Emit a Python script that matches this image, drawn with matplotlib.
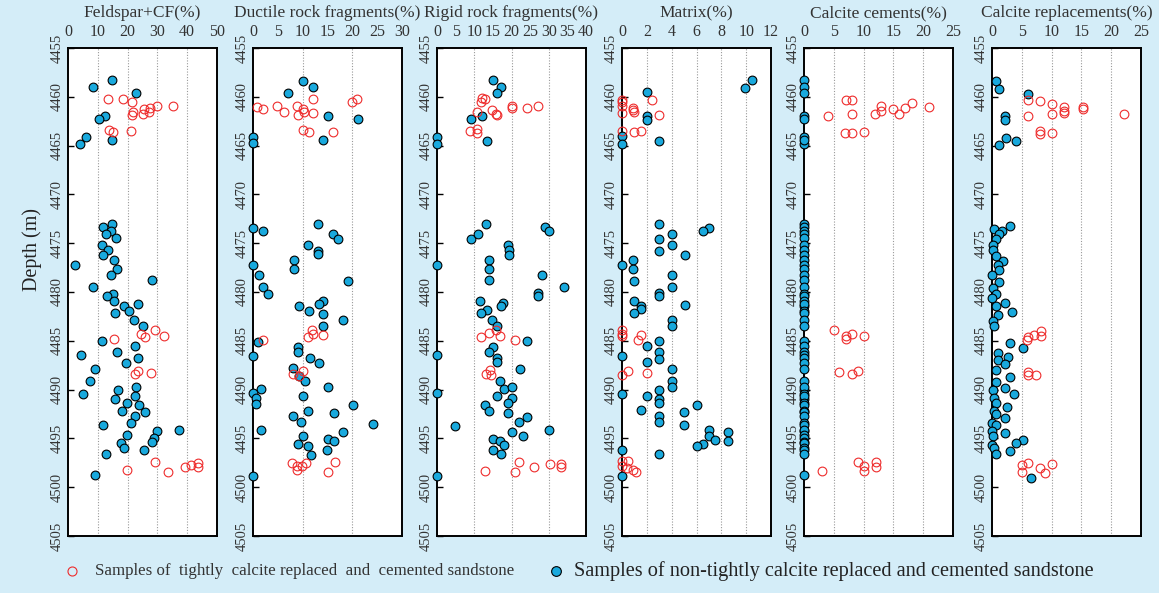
import matplotlib
matplotlib.use('Agg')
import matplotlib.pyplot as plt
import numpy as np

plt.rcParams['font.family'] = ['Liberation Serif', 'DejaVu Serif']

# ---- data (value %, depth m) ----
# Feldspar+CF
fel_blue_x = [14.6, 8.4, 22.8, 12.4, 10.4, 6.1, 3.9, 14.7, 14.6, 11.8, 14.4, 12.6, 16.2, 11.3, 13.4, 11.7,
              15.4, 2.2, 16.3, 14.3, 28.2, 8.4, 15.0, 13.1, 15.4, 18.8, 23.6, 20.4, 15.9, 22.1, 25.2, 11.3,
              22.6, 16.3, 4.4, 23.4, 19.3, 9.1, 7.3, 16.8, 22.8, 4.9, 15.7, 22.6, 19.9, 23.7, 18.0, 25.8,
              22.4, 21.3, 11.9, 29.7, 37.2, 19.9, 28.8, 28.2, 17.9, 18.7, 25.4, 12.6, 9.1]
fel_blue_d = [4458.3, 4459.0, 4459.6, 4462.0, 4462.3, 4464.1, 4464.8, 4464.4, 4473.0, 4473.3, 4473.8, 4474.1,
              4474.5, 4475.2, 4475.7, 4476.2, 4476.7, 4477.2, 4477.6, 4478.3, 4478.8, 4479.5, 4480.2, 4480.45,
              4480.9, 4481.4, 4481.2, 4481.9, 4482.2, 4482.9, 4483.5, 4485.0, 4485.5, 4486.1, 4486.5, 4486.8,
              4487.3, 4487.9, 4489.1, 4490.0, 4489.7, 4490.4, 4491.0, 4490.7, 4491.4, 4491.6, 4492.2, 4492.3,
              4492.7, 4493.4, 4493.6, 4494.2, 4494.1, 4494.7, 4495.0, 4495.4, 4495.5, 4496.0, 4496.2, 4496.6,
              4498.8]
fel_red_x = [13.3, 18.6, 21.4, 29.8, 35.3, 25.6, 27.6, 21.7, 21.4, 25.2, 27.2, 13.8, 15.0, 21.3, 29.2, 32.2,
             24.6, 25.8, 15.3, 23.6, 22.6, 28.0, 29.1, 33.7, 19.7, 39.1, 41.2, 43.6, 43.6]
fel_red_d = [4460.2, 4460.2, 4460.5, 4460.9, 4460.9, 4461.2, 4461.1, 4461.6, 4461.9, 4461.8, 4461.6, 4463.4,
             4463.6, 4463.5, 4483.9, 4484.5, 4484.3, 4484.6, 4484.8, 4488.1, 4488.4, 4488.3, 4497.4, 4498.4,
             4498.2, 4497.9, 4497.7, 4497.5, 4497.9]

# Ductile rock fragments
duc_blue_x = [10.0, 12.1, 7.1, 15.1, 21.1, 0.1, 0.1, 14.0, 13.1, 2.1, 0.1, 16.1, 17.1, 11.1, 13.1, 13.1,
              8.3, 8.2, 0.1, 1.3, 19.1, 2.1, 3.1, 14.1, 13.2, 9.2, 11.2, 14.1, 18.1, 14.1, 1.1, 9.1, 9.1,
              0.1, 11.5, 13.2, 8.0, 9.3, 10.5, 1.7, 15.1, 0.1, 0.7, 10.0, 0.7, 20.1, 11.1, 16.3, 8.0, 9.6,
              24.1, 1.7, 18.1, 10.0, 15.0, 16.3, 9.1, 11.1, 14.9, 11.6, 0.1]
duc_blue_d = [4458.4, 4459.0, 4459.6, 4462.0, 4462.3, 4464.1, 4464.7, 4464.4, 4473.0, 4473.7, 4473.4, 4474.1,
              4474.6, 4475.2, 4475.8, 4476.1, 4476.7, 4477.6, 4477.2, 4478.3, 4478.9, 4479.5, 4480.2, 4480.9,
              4481.2, 4481.4, 4481.9, 4482.3, 4482.9, 4483.5, 4485.1, 4485.6, 4486.1, 4486.6, 4486.8, 4487.3,
              4487.8, 4488.6, 4489.1, 4489.9, 4489.7, 4490.35, 4490.9, 4490.7, 4491.5, 4491.6, 4492.2, 4492.4,
              4492.7, 4493.3, 4493.5, 4494.1, 4494.3, 4494.8, 4495.1, 4495.3, 4495.6, 4495.8, 4496.2, 4496.7,
              4498.9]
duc_red_x = [12.0, 20.9, 20.0, 0.9, 2.0, 4.9, 8.9, 10.1, 6.2, 10.3, 12.0, 9.0, 10.0, 11.2, 16.1, 2.0, 11.8,
             12.0, 14.0, 11.0, 10.1, 8.0, 9.3, 7.8, 8.8, 9.8, 10.7, 8.9, 16.5, 15.0]
duc_red_d = [4460.2, 4460.2, 4460.5, 4461.0, 4461.2, 4460.9, 4460.9, 4461.3, 4461.6, 4461.6, 4461.7, 4461.9,
             4463.4, 4463.6, 4463.6, 4484.9, 4483.9, 4484.3, 4484.4, 4484.6, 4488.1, 4488.4, 4488.6, 4497.5,
             4497.8, 4497.8, 4497.5, 4498.2, 4497.4, 4498.4]

# Rigid rock fragments
rig_blue_x = [14.9, 17.2, 16.0, 9.2, 12.1, 0.0, 0.0, 13.3, 13.2, 9.1, 11.0, 29.0, 30.2, 19.0, 19.2, 19.2,
              14.0, 14.0, 0.0, 14.0, 28.1, 34.1, 27.0, 27.0, 11.5, 13.3, 11.9, 17.6, 17.1, 14.8, 16.0, 24.1,
              15.0, 13.9, 0.0, 16.0, 16.0, 22.2, 16.9, 18.0, 20.0, 0.0, 16.0, 20.0, 19.1, 12.8, 13.9, 19.1,
              24.1, 22.0, 4.9, 30.1, 20.0, 23.1, 15.0, 16.9, 18.0, 15.0, 17.1, 0.0]
rig_blue_d = [4458.3, 4459.0, 4459.6, 4462.3, 4462.0, 4464.1, 4464.8, 4464.5, 4473.0, 4474.6, 4474.1, 4473.3,
              4473.7, 4475.2, 4475.7, 4476.2, 4476.7, 4477.6, 4477.2, 4478.8, 4478.3, 4479.5, 4480.1, 4480.4,
              4480.9, 4481.8, 4482.2, 4481.1, 4481.4, 4482.9, 4483.5, 4485.0, 4485.6, 4486.1, 4486.5, 4486.8,
              4487.2, 4487.9, 4489.1, 4489.9, 4489.7, 4490.35, 4490.7, 4490.9, 4491.4, 4491.6, 4492.2, 4492.4,
              4492.8, 4493.3, 4493.7, 4494.1, 4494.3, 4494.8, 4495.1, 4495.3, 4495.7, 4496.2, 4496.6, 4498.9]
rig_red_x = [12.2, 12.8, 11.7, 20.0, 20.0, 24.1, 27.0, 14.8, 15.9, 16.2, 10.8, 8.8, 10.8, 10.8, 11.7, 13.9,
             15.9, 16.8, 20.9, 14.1, 13.2, 14.6, 22.0, 26.1, 30.3, 33.2, 33.2, 13.0, 20.9]
rig_red_d = [4460.1, 4460.2, 4460.5, 4460.9, 4461.1, 4461.1, 4460.9, 4461.4, 4461.8, 4461.9, 4461.6, 4463.5,
             4463.3, 4463.7, 4484.6, 4484.2, 4483.9, 4484.5, 4484.9, 4488.0, 4488.4, 4488.5, 4497.4, 4497.9,
             4497.6, 4497.6, 4497.9, 4498.3, 4498.4]

# Matrix
mat_blue_x = [10.5, 9.9, 2.0, 2.0, 2.0, 0.0, 0.0, 3.0, 3.0, 7.0, 6.5, 4.0, 3.0, 4.0, 3.0, 5.1, 0.9, 0.0,
              0.9, 4.0, 1.0, 4.0, 3.0, 3.0, 1.0, 1.5, 1.5, 1.0, 5.1, 4.0, 4.0, 3.0, 2.0, 3.0, 0.0, 3.0,
              2.0, 4.0, 4.0, 4.0, 3.0, 0.0, 2.0, 3.0, 3.0, 6.0, 1.5, 5.0, 3.0, 3.0, 5.0, 7.0, 8.5, 7.0,
              7.5, 8.5, 6.5, 6.0, 0.0, 3.0, 0.0]
mat_blue_d = [4458.3, 4459.1, 4459.5, 4462.0, 4462.4, 4464.0, 4464.8, 4464.5, 4473.0, 4473.4, 4473.7, 4474.1,
              4474.6, 4475.2, 4475.8, 4476.2, 4476.7, 4477.2, 4477.6, 4478.3, 4478.9, 4479.5, 4480.1, 4480.4,
              4480.9, 4481.4, 4481.7, 4482.2, 4481.3, 4482.9, 4483.5, 4485.0, 4485.5, 4486.1, 4486.6, 4486.9,
              4487.2, 4487.9, 4489.1, 4489.7, 4490.0, 4490.4, 4490.7, 4491.0, 4491.4, 4491.6, 4492.1, 4492.3,
              4492.7, 4493.3, 4493.6, 4494.1, 4494.3, 4494.8, 4495.2, 4495.3, 4495.6, 4495.8, 4496.2, 4496.6,
              4498.9]
mat_red_x = [0.0, 0.0, 2.4, 0.0, 0.9, 0.9, 1.0, 0.0, 3.0, 0.0, 1.0, 1.5, 0.0, 0.0, 0.0, 1.5, 1.3, 0.5,
             0.0, 2.0, 0.0, 0.5, 0.0, 0.4, 0.9, 1.1]
mat_red_d = [4460.3, 4460.5, 4460.3, 4460.9, 4461.1, 4461.4, 4461.6, 4461.7, 4461.9, 4463.5, 4463.6, 4463.5,
             4483.9, 4484.3, 4484.5, 4484.4, 4484.9, 4488.1, 4488.5, 4488.3, 4497.3, 4497.3, 4497.8, 4498.0,
             4498.2, 4498.4]

# Calcite cements (non-tight samples all 0 %)
cem_blue_x = [0.0] * len(fel_blue_d)
cem_blue_d = fel_blue_d
cem_red_x = [7.0, 8.0, 18.1, 13.0, 15.0, 17.0, 21.0, 13.0, 11.9, 16.0, 8.0, 4.0, 6.9, 8.0, 10.0, 5.0, 7.1,
             7.1, 8.1, 10.0, 5.9, 8.0, 9.0, 3.0, 9.0, 10.0, 10.0, 12.1, 12.1]
cem_red_d = [4460.3, 4460.3, 4460.6, 4460.9, 4461.3, 4461.1, 4461.0, 4461.5, 4461.8, 4461.8, 4461.8, 4462.0,
             4463.7, 4463.7, 4463.6, 4483.9, 4484.5, 4484.8, 4484.3, 4484.5, 4488.2, 4488.4, 4488.1, 4498.3,
             4497.4, 4497.8, 4498.3, 4497.4, 4497.9]

# Calcite replacements
rep_blue_x = [0.7, 1.1, 6.1, 2.1, 2.1, 2.4, 4.0, 1.1, 3.1, 0.4, 1.7, 1.2, 0.6, 0.2, 0.1, 0.7, 1.8, 1.0,
              1.1, 0.0, 1.1, 0.1, 0.7, 0.0, 2.1, 0.7, 3.3, 1.0, 0.1, 0.4, 3.1, 5.2, 1.0, 2.7, 1.0, 2.1,
              0.7, 3.0, 0.7, 2.1, 0.2, 3.7, 0.3, 0.7, 2.6, 0.3, 0.7, 2.1, 0.0, 0.6, 0.0, 2.1, 0.2, 5.2,
              4.0, 0.0, 0.3, 3.0, 0.7, 6.6]
rep_blue_d = [4458.4, 4459.2, 4459.7, 4462.0, 4462.4, 4464.2, 4464.5, 4464.9, 4473.2, 4473.5, 4473.8, 4474.1,
              4474.6, 4475.2, 4475.7, 4476.3, 4476.8, 4477.2, 4477.7, 4478.3, 4479.0, 4479.6, 4480.2, 4480.6,
              4481.1, 4481.4, 4482.0, 4482.4, 4483.0, 4483.5, 4485.2, 4485.7, 4486.2, 4486.7, 4487.0, 4487.4,
              4488.0, 4488.7, 4489.2, 4489.8, 4490.0, 4490.5, 4490.9, 4491.4, 4491.75, 4492.2, 4492.5, 4492.9,
              4493.4, 4493.6, 4494.2, 4494.4, 4494.8, 4495.2, 4495.5, 4495.7, 4496.0, 4496.3, 4496.6, 4499.1]
rep_red_x = [6.1, 8.1, 10.1, 12.1, 12.1, 12.1, 15.2, 15.2, 10.1, 6.1, 22.1, 8.1, 8.1, 10.1, 5.8, 6.0, 7.0,
             8.2, 8.2, 6.1, 6.1, 7.3, 5.1, 5.1, 6.1, 8.1, 8.9, 10.1]
rep_red_d = [4460.3, 4460.4, 4460.7, 4461.0, 4461.5, 4461.7, 4461.0, 4461.3, 4461.8, 4462.0, 4461.8, 4463.5,
             4463.8, 4463.7, 4484.9, 4484.6, 4484.4, 4484.0, 4484.55, 4488.2, 4488.5, 4488.5, 4497.7, 4498.4,
             4497.5, 4498.0, 4498.5, 4497.6]

titles = ['Feldspar+CF(%)', 'Ductile rock fragments(%)', 'Rigid rock fragments(%)',
          'Matrix(%)', 'Calcite cements(%)', 'Calcite replacements(%)']
xmax = [50, 30, 40, 12, 25, 25]
xstep = [10, 5, 5, 2, 5, 5]
gstep = [10, 10, 10, 2, 5, 5]
blue_sets = [(fel_blue_x, fel_blue_d), (duc_blue_x, duc_blue_d), (rig_blue_x, rig_blue_d),
             (mat_blue_x, mat_blue_d), (cem_blue_x, cem_blue_d), (rep_blue_x, rep_blue_d)]
red_sets = [(fel_red_x, fel_red_d), (duc_red_x, duc_red_d), (rig_red_x, rig_red_d),
            (mat_red_x, mat_red_d), (cem_red_x, cem_red_d), (rep_red_x, rep_red_d)]
depth_ticks = list(range(4455, 4506, 5))

BG = '#d4edf8'
BLUE = '#19a9dd'
RED = '#ee2b2b'

W, H = 1159, 593
fig = plt.figure(figsize=(W / 100, H / 100), dpi=100, facecolor=BG)

lefts = [68, 253, 437, 622, 804, 992]
pw = 149
top_px, bot_px = 48, 536

for i in range(6):
    ax = fig.add_axes([lefts[i] / W, 1 - bot_px / H, pw / W, (bot_px - top_px) / H])
    ax.set_facecolor('white')
    ax.set_xlim(0, xmax[i])
    ax.set_ylim(4505, 4455)
    ax.set_xticks(np.arange(0, xmax[i] + 0.01, xstep[i]))
    for g in np.arange(gstep[i], xmax[i], gstep[i]):
        ax.axvline(g, color='#999999', linestyle=(0, (1, 1.5)), linewidth=0.8, zorder=0)
    ax.xaxis.tick_top()
    ax.tick_params(axis='x', length=0, pad=6, labelsize=11.5, labelcolor='#333333')
    ax.set_yticks(depth_ticks)
    ax.tick_params(axis='y', direction='in', length=4, width=1, pad=3, labelsize=10.5,
                   labelcolor='#333333')
    for lab in ax.get_yticklabels():
        lab.set_rotation(90)
        lab.set_va('center')
        lab.set_ha('right')
    for s in ax.spines.values():
        s.set_linewidth(1.4)
    bx, bd = blue_sets[i]
    rx, rd = red_sets[i]
    ax.plot(bx, bd, 'o', ms=6.3, mfc=BLUE, mec='black', mew=0.8, clip_on=False, zorder=3)
    ax.plot(rx, rd, 'o', ms=6.3, mfc='none', mec=RED, mew=0.8, clip_on=False, zorder=4)
    fig.text((lefts[i] + pw / 2) / W, 1 - 13 / H, titles[i], ha='center', va='center', fontsize=12.5,
             color='#333333')

fig.text(32 / W, 1 - 250 / H, 'Depth (m)', rotation=90, ha='center', va='center', fontsize=14.5,
         color='#222222')

# legend
lax = fig.add_axes([0, 0, 1, 1])
lax.set_xlim(0, W)
lax.set_ylim(H, 0)
lax.axis('off')
lax.plot([72], [571], 'o', ms=6.5, mfc='none', mec=RED, mew=0.8)
lax.text(95, 571, 'Samples of  tightly  calcite replaced  and  cemented sandstone', ha='left', va='center',
         fontsize=12.2, color='#333333')
lax.plot([556], [571], 'o', ms=7, mfc=BLUE, mec='black', mew=0.8)
lax.text(574, 571, 'Samples of non-tightly calcite replaced and cemented sandstone', ha='left', va='center',
         fontsize=14.6, color='#222222')

fig.savefig('out.png', dpi=100, facecolor=BG)
